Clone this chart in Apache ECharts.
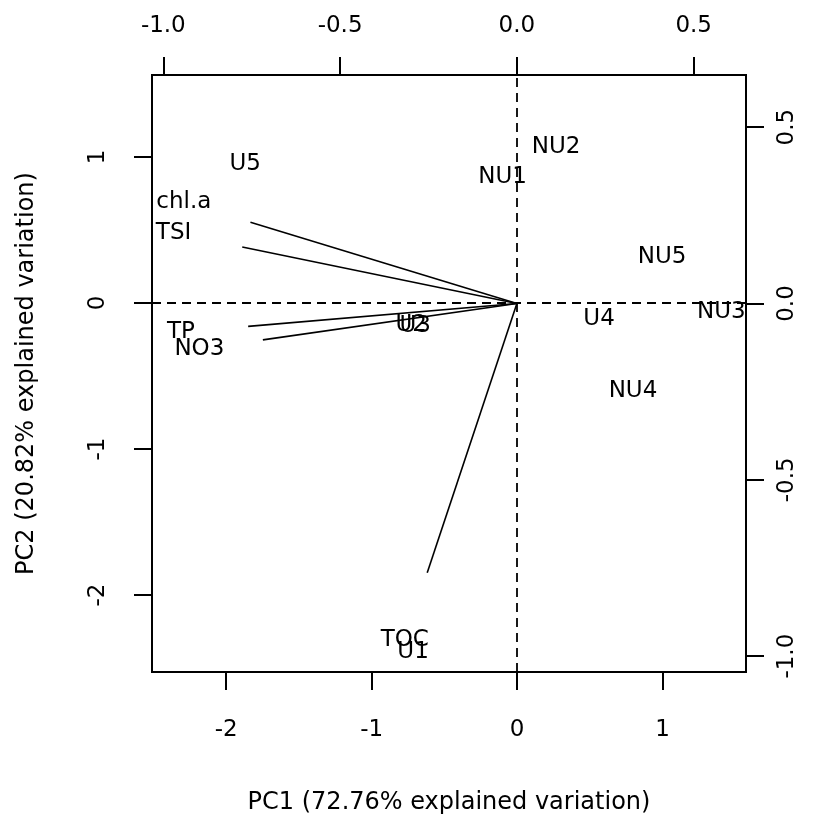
<!DOCTYPE html>
<html>
<head>
<meta charset="utf-8">
<script src="https://cdn.jsdelivr.net/npm/echarts@6/dist/echarts.min.js"></script>
<style>html,body{margin:0;padding:0;background:#fff}#chart{width:819px;height:821px}</style>
</head>
<body>
<div id="chart"></div>
<script>
// Sample scores (PC1, PC2) on the primary (bottom/left) scale
const sampleNames = ['NU1','NU2','NU3','NU4','NU5','U1','U2','U3','U4','U5'];
const samplePC1 = [-0.100, 0.268, 1.405, 0.797, 0.997, -0.715, -0.728, -0.700, 0.564, -1.869];
const samplePC2 = [0.861, 1.071, -0.059, -0.601, 0.317, -2.390, -0.148, -0.160, -0.110, 0.952];

// Variable loadings on the secondary (top/right) scale
const varNames = ['chl.a','TSI','TP','NO3','TOC'];
const loadPC1 = [-0.942, -0.971, -0.950, -0.898, -0.317];
const loadPC2 = [0.288, 0.200, -0.081, -0.129, -0.954];

// Tick values
const bottomTicks = [-2, -1, 0, 1];
const leftTicks = [-2, -1, 0, 1];
const topTicks = [-1.0, -0.5, 0.0, 0.5];
const rightTicks = [-1.0, -0.5, 0.0, 0.5];

const arrowScale = 0.8;
const FONT = '"DejaVu Sans", sans-serif';
const FS = 23;
const FS_TITLE = 24;

const chart = echarts.init(document.getElementById('chart'), null, {renderer: 'canvas'});

function axisCommon(ticks, fmt, margin, rotate) {
  return {
    axisLine: {show: false, onZero: false},
    splitLine: {show: false},
    axisTick: {show: true, inside: false, length: 18, customValues: ticks,
               lineStyle: {color: '#000', width: 2}},
    axisLabel: {show: true, customValues: ticks, formatter: fmt, margin: margin,
                rotate: rotate || 0, color: '#000', fontSize: FS, fontFamily: FONT}
  };
}

const labelStyle = {show: true, position: 'inside', formatter: '{b}', color: '#000', opacity: 1,
                    fontSize: FS, fontFamily: FONT, align: 'center', verticalAlign: 'middle'};

const option = {
  animation: false,
  backgroundColor: '#fff',
  grid: {left: 152, top: 75, width: 594, height: 597, show: true,
         borderColor: '#000', borderWidth: 2, backgroundColor: 'transparent'},
  xAxis: [
    Object.assign({type: 'value', position: 'bottom', min: -2.51, max: 1.574,
      name: 'PC1 (72.76% explained variation)', nameLocation: 'middle', nameGap: 119,
      nameTextStyle: {color: '#000', fontSize: FS_TITLE, fontFamily: FONT}},
      axisCommon(bottomTicks, v => String(v), 47)),
    Object.assign({type: 'value', position: 'top', min: -1.032, max: 0.648},
      axisCommon(topTicks, v => v.toFixed(1), 37))
  ],
  yAxis: [
    Object.assign({type: 'value', position: 'left', min: -2.527, max: 1.562,
      name: 'PC2 (20.82% explained variation)', nameLocation: 'middle', nameGap: 113,
      nameTextStyle: {color: '#000', fontSize: FS_TITLE, fontFamily: FONT}},
      axisCommon(leftTicks, v => String(v), 42, 90)),
    Object.assign({type: 'value', position: 'right', min: -1.045, max: 0.648},
      axisCommon(rightTicks, v => v.toFixed(1), 30, 90))
  ],
  series: [
    {
      type: 'scatter', xAxisIndex: 0, yAxisIndex: 0, silent: true,
      symbol: 'circle', symbolSize: 0, itemStyle: {color: '#000', opacity: 1},
      data: sampleNames.map((n, i) => ({name: n, value: [samplePC1[i], samplePC2[i]]})),
      label: labelStyle,
      markLine: {
        silent: true, symbol: ['none', 'none'], label: {show: false},
        lineStyle: {color: '#000', width: 1.8, type: [9, 6], opacity: 1},
        data: [{xAxis: 0}, {yAxis: 0}]
      },
      z: 3
    },
    {
      type: 'lines', coordinateSystem: 'cartesian2d', xAxisIndex: 1, yAxisIndex: 1,
      silent: true, polyline: false,
      lineStyle: {color: '#000', width: 1.6, opacity: 1},
      data: varNames.map((n, i) => ({coords: [[0, 0], [loadPC1[i] * arrowScale, loadPC2[i] * arrowScale]]})),
      z: 2
    },
    {
      type: 'scatter', xAxisIndex: 1, yAxisIndex: 1, silent: true,
      symbol: 'circle', symbolSize: 0, itemStyle: {color: '#000', opacity: 1},
      data: varNames.map((n, i) => ({name: n, value: [loadPC1[i], loadPC2[i]]})),
      label: labelStyle,
      z: 3
    }
  ]
};
chart.setOption(option);
</script>
</body>
</html>
